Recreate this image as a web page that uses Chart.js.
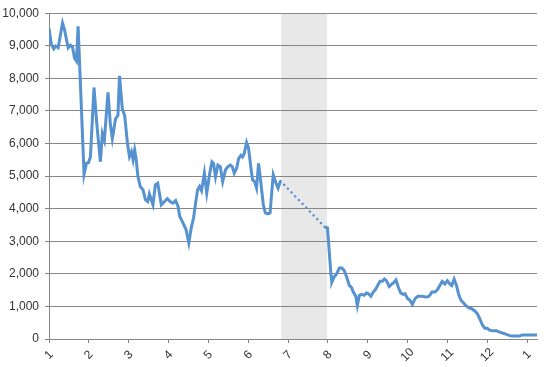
<!DOCTYPE html>
<html>
<head>
<meta charset="utf-8">
<script src="https://cdn.jsdelivr.net/npm/chart.js@4"></script>
<style>
  body { margin: 0; background: #fff; overflow: hidden; }
  #grafico { display: block; }
</style>
</head>
<body>
<canvas id="grafico" width="550" height="367"></canvas>
<script>
// ===== Dados (x em meses, 1 = jan) =====
const MESES_X = [1, 2, 3, 4, 5, 6, 7, 8, 9, 10, 11, 12, 13];
const ROTULOS_X = ["1", "2", "3", "4", "5", "6", "7", "8", "9", "10", "11", "12", "1"];
const TICKS_Y = [0, 1000, 2000, 3000, 4000, 5000, 6000, 7000, 8000, 9000, 10000];
const FAIXA = [6.83, 7.98]; // período sem dados (sombreado)

// antes da interrupção
const X_ANTES = [1.0, 1.06, 1.12, 1.17, 1.23, 1.34, 1.39, 1.48, 1.54, 1.59, 1.64, 1.69, 1.73, 1.76, 1.88, 1.94, 1.99,
  2.04, 2.13, 2.20, 2.29, 2.34, 2.39, 2.48, 2.54, 2.59, 2.67, 2.73, 2.77, 2.84, 2.90, 2.97,
  3.02, 3.07, 3.11, 3.15, 3.19, 3.23, 3.29, 3.36, 3.42, 3.48, 3.52, 3.61, 3.67, 3.73, 3.82, 3.90, 3.97,
  4.04, 4.11, 4.18, 4.24, 4.28, 4.36, 4.44, 4.51, 4.57, 4.63, 4.68, 4.73, 4.78, 4.83, 4.90, 4.96,
  5.03, 5.09, 5.13, 5.18, 5.24, 5.30, 5.36, 5.43, 5.49, 5.55, 5.60, 5.65, 5.71, 5.76, 5.82, 5.86, 5.90, 5.96,
  6.01, 6.07, 6.11, 6.16, 6.21, 6.26, 6.32, 6.38, 6.43, 6.49, 6.55, 6.60, 6.63, 6.70, 6.75, 6.81];
const Y_ANTES = [9540, 9040, 8910, 8990, 8940, 9700, 9490, 8940, 9020, 8960, 8630, 8530, 9600, 8700, 5050, 5390, 5410,
  5590, 7720, 6600, 5440, 6300, 6100, 7570, 6600, 6150, 6760, 6860, 8080, 7060, 6860, 6000,
  5600, 5750, 5500, 5800, 5500, 5000, 4680, 4580, 4280, 4220, 4450, 4120, 4730, 4780, 4120, 4220, 4310,
  4220, 4170, 4250, 4070, 3770, 3570, 3360, 2950, 3410, 3720, 4170, 4580, 4680, 4550, 5090, 4480,
  5050, 5440, 5390, 4980, 5340, 5290, 4830, 5190, 5290, 5340, 5290, 5090, 5240, 5540, 5640, 5590, 5690, 6030,
  5850, 5240, 4880, 4830, 4630, 5390, 4780, 4120, 3870, 3840, 3870, 4630, 5040, 4780, 4630, 4850];

// depois da interrupção
const X_DEPOIS = [7.93, 7.99, 8.08, 8.10, 8.16, 8.22, 8.29, 8.35, 8.41, 8.47, 8.54, 8.59, 8.64, 8.70, 8.74, 8.79, 8.85, 8.91, 8.97,
  9.02, 9.08, 9.14, 9.19, 9.25, 9.31, 9.37, 9.42, 9.47, 9.54, 9.61, 9.66, 9.71, 9.77, 9.83, 9.89, 9.94,
  10.00, 10.06, 10.12, 10.19, 10.26, 10.37, 10.46, 10.52, 10.56, 10.61, 10.69, 10.75, 10.81, 10.87, 10.94,
  11.00, 11.06, 11.11, 11.17, 11.23, 11.28, 11.34, 11.39, 11.46, 11.53, 11.61, 11.69, 11.75, 11.81, 11.88, 11.94,
  12.00, 12.06, 12.15, 12.23, 12.31, 12.42, 12.53, 12.61, 12.71, 12.80, 12.88, 13.01, 13.25];
const Y_DEPOIS = [3430, 3410, 1950, 1740, 1910, 2000, 2180, 2180, 2100, 1910, 1640, 1590, 1440, 1310, 1030, 1340, 1370, 1340, 1410,
  1390, 1310, 1440, 1510, 1640, 1770, 1770, 1840, 1790, 1610, 1690, 1740, 1810, 1590, 1410, 1370, 1390,
  1240, 1190, 1060, 1240, 1310, 1310, 1290, 1300, 1340, 1440, 1440, 1510, 1640, 1770, 1690,
  1790, 1690, 1640, 1840, 1640, 1390, 1190, 1130, 1030, 960, 930, 860, 780, 630, 430, 330,
  330, 270, 250, 250, 210, 170, 120, 90, 90, 90, 120, 120, 120];

// ===== Estilo =====
const AZUL = "#5592cf";
const CINZA_GRADE = "#878787";
const FONTE = '"Liberation Sans", Arial, sans-serif';
Chart.defaults.font.family = FONTE;
Chart.defaults.font.size = 12;
Chart.defaults.color = "#333";

const pontos = (xs, ys) => xs.map((x, i) => ({ x, y: ys[i] }));
const ultimo = X_ANTES.length - 1;

// faixa cinza atrás da grade
const faixaCinza = {
  id: "faixaCinza",
  beforeDraw(chart) {
    const { ctx, chartArea: a, scales: { x } } = chart;
    const x0 = x.getPixelForValue(FAIXA[0]), x1 = x.getPixelForValue(FAIXA[1]);
    ctx.save();
    ctx.fillStyle = "#e8e8e8";
    ctx.fillRect(x0, a.top, x1 - x0, a.bottom - a.top);
    ctx.restore();
  }
};

// rótulos do eixo x inclinados e centrados no tick
const rotulosX = {
  id: "rotulosX",
  afterDraw(chart) {
    const { ctx, scales: { x } } = chart;
    ctx.save();
    ctx.font = "12px " + FONTE;
    ctx.fillStyle = "#333";
    ctx.textAlign = "center";
    ctx.textBaseline = "middle";
    MESES_X.forEach((m, i) => {
      ctx.save();
      ctx.translate(x.getPixelForValue(m), x.bottom - 12);
      ctx.rotate(-Math.PI / 4);
      ctx.fillText(ROTULOS_X[i], 0, 0);
      ctx.restore();
    });
    ctx.restore();
  }
};

new Chart(document.getElementById("grafico"), {
  type: "line",
  data: {
    datasets: [
      { data: pontos(X_ANTES, Y_ANTES), borderColor: AZUL, borderWidth: 3, pointRadius: 0, tension: 0 },
      { data: pontos(X_DEPOIS, Y_DEPOIS), borderColor: AZUL, borderWidth: 3, pointRadius: 0, tension: 0 },
      { // ligação pontilhada sobre o período sem dados
        data: [{ x: X_ANTES[ultimo], y: Y_ANTES[ultimo] }, { x: X_DEPOIS[0], y: Y_DEPOIS[0] }],
        borderColor: AZUL, borderWidth: 2.5, borderDash: [0.1, 5.2], borderCapStyle: "round",
        pointRadius: 0, tension: 0 },
    ]
  },
  options: {
    responsive: false,
    animation: false,
    events: [],
    layout: { padding: { top: 10, right: 13, left: 0, bottom: 0 } },
    plugins: { legend: { display: false }, tooltip: { enabled: false } },
    scales: {
      x: {
        type: "linear", min: 1, max: 13.25,
        afterBuildTicks: s => { s.ticks = MESES_X.map(v => ({ value: v })); },
        afterFit: s => { s.height = 28; },
        ticks: { display: false },
        grid: { drawOnChartArea: false, color: CINZA_GRADE, tickLength: 4 },
        border: { color: CINZA_GRADE }
      },
      y: {
        min: 0, max: 10000,
        afterBuildTicks: s => { s.ticks = TICKS_Y.map(v => ({ value: v })); },
        afterFit: s => { s.width = 49; },
        ticks: { padding: 6, callback: v => v.toLocaleString("en-US") },
        grid: { color: CINZA_GRADE, tickLength: 4 },
        border: { color: CINZA_GRADE }
      }
    }
  },
  plugins: [faixaCinza, rotulosX]
});
</script>
</body>
</html>
